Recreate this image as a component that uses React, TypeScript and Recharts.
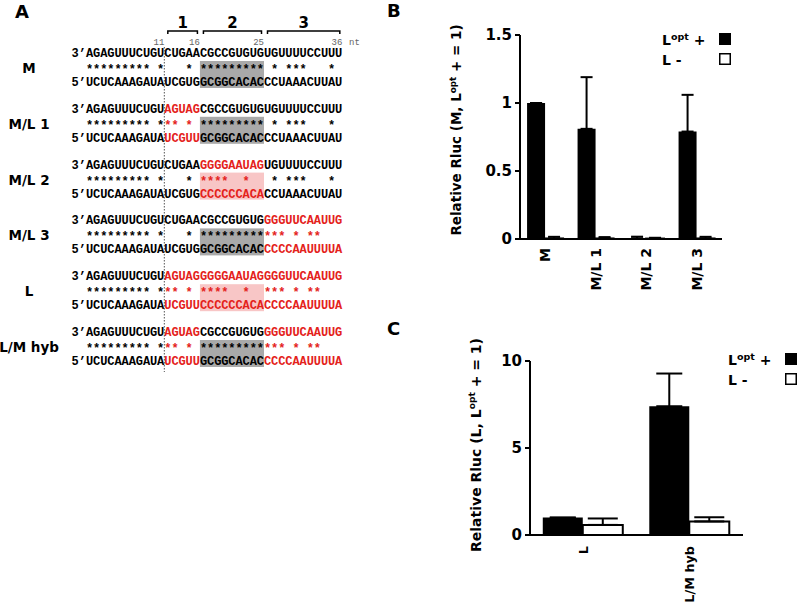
import React from 'react';
import { BarChart, Bar, XAxis, YAxis, ErrorBar, Legend } from 'recharts';

const SANS = '"DejaVu Sans", Verdana, sans-serif';
const MONO = '"Liberation Mono", "Courier New", monospace';
const RED = '#e4221b';
const GRAY_BOX = '#a9a9a9';
const PINK_BOX = '#f8c6c6';

// ---- panel A: duplexes, split into the stem and regions 1-3 ----
const constructNames = ['M', 'M/L 1', 'M/L 2', 'M/L 3', 'L', 'L/M hyb'];
const regionNames = ['1', '2', '3'];
const ntMarks = [11, 16, 25, 36];

const strand3 = [
  ['AGAGUUUCUGU', 'CUGAA', 'CGCCGUGUG', 'UGUUUUCCUUU'],
  ['AGAGUUUCUGU', 'AGUAG', 'CGCCGUGUG', 'UGUUUUCCUUU'],
  ['AGAGUUUCUGU', 'CUGAA', 'GGGGAAUAG', 'UGUUUUCCUUU'],
  ['AGAGUUUCUGU', 'CUGAA', 'CGCCGUGUG', 'GGGUUCAAUUG'],
  ['AGAGUUUCUGU', 'AGUAG', 'GGGGAAUAG', 'GGGUUCAAUUG'],
  ['AGAGUUUCUGU', 'AGUAG', 'CGCCGUGUG', 'GGGUUCAAUUG'],
];
const pairMarks = [
  ['********* *', '   * ', '*********', ' * ***   * '],
  ['********* *', '** * ', '*********', ' * ***   * '],
  ['********* *', '   * ', '****  *  ', ' * ***   * '],
  ['********* *', '   * ', '*********', '*** * **   '],
  ['********* *', '** * ', '****  *  ', '*** * **   '],
  ['********* *', '** * ', '*********', '*** * **   '],
];
const strand5 = [
  ['UCUCAAAGAUA', 'UCGUG', 'GCGGCACAC', 'CCUAAACUUAU'],
  ['UCUCAAAGAUA', 'UCGUU', 'GCGGCACAC', 'CCUAAACUUAU'],
  ['UCUCAAAGAUA', 'UCGUG', 'CCCCCCACA', 'CCUAAACUUAU'],
  ['UCUCAAAGAUA', 'UCGUG', 'GCGGCACAC', 'CCCCAAUUUUA'],
  ['UCUCAAAGAUA', 'UCGUU', 'CCCCCCACA', 'CCCCAAUUUUA'],
  ['UCUCAAAGAUA', 'UCGUU', 'GCGGCACAC', 'CCCCAAUUUUA'],
];
// which of regions 1, 2, 3 carry the L sequence (drawn red)
const fromL = [
  [false, false, false],
  [true, false, false],
  [false, true, false],
  [false, false, true],
  [true, true, true],
  [true, false, true],
];

// ---- panel B ----
const bCategories = ['M', 'M/L 1', 'M/L 2', 'M/L 3'];
const bLoptPlus = [1.0, 0.81, 0.005, 0.79];
const bLoptPlusErr = [0, 0.38, 0.012, 0.27];
const bLMinus = [0.004, 0.004, 0.003, 0.004];
const bLMinusErr = [0.012, 0.01, 0.006, 0.012];

// ---- panel C ----
const cCategories = ['L', 'L/M hyb'];
const cLoptPlus = [1.0, 7.4];
const cLoptPlusErr = [0, 1.88];
const cLMinus = [0.58, 0.78];
const cLMinusErr = [0.37, 0.24];

const bData = bCategories.map((name, i) => ({
  name,
  plus: bLoptPlus[i],
  plusErr: [0, bLoptPlusErr[i]],
  minus: bLMinus[i],
  minusErr: [0, bLMinusErr[i]],
}));

const cData = cCategories.map((name, i) => ({
  name,
  plus: cLoptPlus[i],
  plusErr: [0, cLoptPlusErr[i]],
  minus: cLMinus[i],
  minusErr: [0, cLMinusErr[i]],
}));

function SequencePanel() {
  const x0 = 86;
  const cw = 7.12;
  const top0 = 53;
  const step = 55.8;
  const starts = [0, ...ntMarks.slice(0, 3)];
  const seqFont = { fontFamily: MONO, fontWeight: 700, fontSize: 12 };

  const seg = (txt: string, start: number, y: number, color: string, key: string) => (
    <text
      key={key}
      x={x0 + start * cw}
      y={y}
      textLength={txt.length * cw}
      lengthAdjust="spacing"
      fill={color}
      xmlSpace="preserve"
      style={{ whiteSpace: 'pre' }}
      {...seqFont}
    >
      {txt}
    </text>
  );

  return (
    <svg width={800} height={605} style={{ position: 'absolute', left: 0, top: 0 }}>
      <g fontFamily={SANS} fontWeight={700} fontSize={18} fill="#000">
        <text x={15} y={18}>A</text>
        <text x={387} y={17}>B</text>
        <text x={387} y={335}>C</text>
      </g>

      {/* region brackets */}
      {regionNames.map((r, k) => {
        const xa = x0 + starts[k + 1] * cw + 3.5;
        const xb = x0 + ntMarks[k + 1] * cw - 2.5;
        return (
          <g key={r}>
            <path d={`M${xa},34 V31 H${xb} V34`} fill="none" stroke="#000" strokeWidth={1.5} />
            <text x={(xa + xb) / 2} y={28} textAnchor="middle" fontFamily={SANS} fontWeight={700} fontSize={15}>
              {r}
            </text>
          </g>
        );
      })}
      {ntMarks.map((n) => (
        <text key={n} x={x0 + n * cw} y={45} textAnchor="end" fontFamily={MONO} fontSize={9} fill="#666">
          {n}
        </text>
      ))}
      <text x={349} y={45} fontFamily={MONO} fontSize={9} fill="#666">nt</text>

      {constructNames.map((name, i) => {
        const top = top0 + i * step;
        const red = fromL[i];
        return (
          <g key={name}>
            <rect
              x={x0 + starts[2] * cw}
              y={top + 8}
              width={(ntMarks[2] - starts[2]) * cw}
              height={27}
              fill={red[1] ? PINK_BOX : GRAY_BOX}
            />
            <text x={29} y={top + 20} textAnchor="middle" fontFamily={SANS} fontWeight={700} fontSize={13.5} fill="#000">
              {name}
            </text>
            <text x={x0} y={top + 4} textAnchor="end" fill="#000" {...seqFont}>3’</text>
            <text x={x0} y={top + 33} textAnchor="end" fill="#000" {...seqFont}>5’</text>
            {strand3[i].map((s, k) => seg(s, starts[k], top + 4, k > 0 && red[k - 1] ? RED : '#000', `t${k}`))}
            {pairMarks[i].map((s, k) => seg(s, starts[k], top + 20, k > 0 && red[k - 1] ? RED : '#000', `m${k}`))}
            {strand5[i].map((s, k) => seg(s, starts[k], top + 33, k > 0 && red[k - 1] ? RED : '#000', `b${k}`))}
          </g>
        );
      })}

      <line
        x1={x0 + ntMarks[0] * cw}
        x2={x0 + ntMarks[0] * cw}
        y1={47}
        y2={372}
        stroke="#555"
        strokeWidth={1}
        strokeDasharray="1.5 1.5"
      />
    </svg>
  );
}

function RotatedTick({ x, y, payload, gap, size }: any) {
  const ty = y + gap;
  return (
    <text
      x={x}
      y={ty}
      transform={`rotate(-90, ${x}, ${ty})`}
      textAnchor="end"
      dy="0.36em"
      fill="#000"
      fontFamily={SANS}
      fontWeight={700}
      fontSize={size}
    >
      {payload.value}
    </text>
  );
}

function YTitle({ cx, cy, group, size }: any) {
  return (
    <text
      transform={`translate(${cx},${cy}) rotate(-90)`}
      textAnchor="middle"
      fill="#000"
      fontFamily={SANS}
      fontWeight={700}
      fontSize={size}
    >
      {`Relative Rluc (${group}, L`}
      <tspan dy={-size * 0.4} fontSize={size * 0.65}>opt</tspan>
      <tspan dy={size * 0.4}>{' + = 1)'}</tspan>
    </text>
  );
}

function LegendKey() {
  const txt = { fontFamily: SANS, fontWeight: 700, fontSize: 14, fill: '#000' };
  return (
    <svg width={76} height={42} style={{ display: 'block', overflow: 'visible' }}>
      <text x={2} y={17} {...txt}>
        L<tspan dy={-5} fontSize={9.5}>opt</tspan>
        <tspan dy={5}>{' +'}</tspan>
      </text>
      <rect x={59} y={5} width={12} height={12} fill="#000" />
      <text x={2} y={37} {...txt}>L -</text>
      <rect x={59.75} y={25.75} width={10.5} height={10.5} fill="#fff" stroke="#000" strokeWidth={1.5} />
    </svg>
  );
}

const axisLine = { stroke: '#000', strokeWidth: 2 };
const yTick = { fill: '#000', fontSize: 15, fontWeight: 700, fontFamily: SANS };

function ChartB() {
  return (
    <BarChart
      width={400}
      height={310}
      data={bData}
      margin={{ top: 35, right: 78, bottom: 0, left: 60 }}
      barGap={0}
      barCategoryGap="14%"
    >
      <XAxis
        dataKey="name"
        interval={0}
        height={71}
        tickSize={0}
        tickMargin={0}
        tickLine={false}
        axisLine={axisLine}
        tick={(p: any) => <RotatedTick x={p.x} y={p.y} payload={p.payload} gap={9} size={14} />}
      />
      <YAxis
        type="number"
        domain={[0, 1.5]}
        ticks={[0, 0.5, 1, 1.5]}
        width={60}
        axisLine={axisLine}
        tickLine={{ stroke: '#000', strokeWidth: 2 }}
        tickSize={5}
        tickMargin={3}
        tick={yTick}
        label={<YTitle cx={61} cy={130} group="M" size={13.5} />}
      />
      <Legend
        content={<LegendKey />}
        layout="vertical"
        align="center"
        verticalAlign="middle"
        wrapperStyle={{ left: 260, top: 28, width: 80, height: 42 }}
      />
      <Bar dataKey="plus" fill="#000" isAnimationActive={false}>
        <ErrorBar dataKey="plusErr" width={6} stroke="#000" strokeWidth={2} direction="y" isAnimationActive={false} />
      </Bar>
      <Bar dataKey="minus" fill="#fff" stroke="#000" strokeWidth={2} isAnimationActive={false}>
        <ErrorBar dataKey="minusErr" width={6} stroke="#000" strokeWidth={2} direction="y" isAnimationActive={false} />
      </Bar>
    </BarChart>
  );
}

function ChartC() {
  return (
    <BarChart
      width={400}
      height={305}
      data={cData}
      margin={{ top: 61, right: 57, bottom: 0, left: 70 }}
      barGap={0}
      barCategoryGap="12%"
    >
      <XAxis
        dataKey="name"
        interval={0}
        height={70}
        tickSize={0}
        tickMargin={0}
        tickLine={false}
        axisLine={axisLine}
        tick={(p: any) => <RotatedTick x={p.x} y={p.y} payload={p.payload} gap={11} size={12.8} />}
      />
      <YAxis
        type="number"
        domain={[0, 10]}
        ticks={[0, 5, 10]}
        width={60}
        axisLine={axisLine}
        tickLine={{ stroke: '#000', strokeWidth: 2 }}
        tickSize={5}
        tickMargin={3}
        tick={yTick}
        label={<YTitle cx={81} cy={145} group="L" size={14} />}
      />
      <Legend
        content={<LegendKey />}
        layout="vertical"
        align="center"
        verticalAlign="middle"
        wrapperStyle={{ left: 326, top: 48, width: 76, height: 42 }}
      />
      <Bar dataKey="plus" fill="#000" isAnimationActive={false}>
        <ErrorBar dataKey="plusErr" width={13} stroke="#000" strokeWidth={2} direction="y" isAnimationActive={false} />
      </Bar>
      <Bar dataKey="minus" fill="#fff" stroke="#000" strokeWidth={2} isAnimationActive={false}>
        <ErrorBar dataKey="minusErr" width={15} stroke="#000" strokeWidth={2} direction="y" isAnimationActive={false} />
      </Bar>
    </BarChart>
  );
}

export default function App() {
  return (
    <div
      style={{
        position: 'absolute',
        left: 0,
        top: 0,
        width: 800,
        height: 605,
        overflow: 'hidden',
        background: '#fff',
        fontFamily: SANS,
      }}
    >
      <SequencePanel />
      <div style={{ position: 'absolute', left: 400, top: 0 }}>
        <ChartB />
      </div>
      <div style={{ position: 'absolute', left: 400, top: 300 }}>
        <ChartC />
      </div>
    </div>
  );
}
